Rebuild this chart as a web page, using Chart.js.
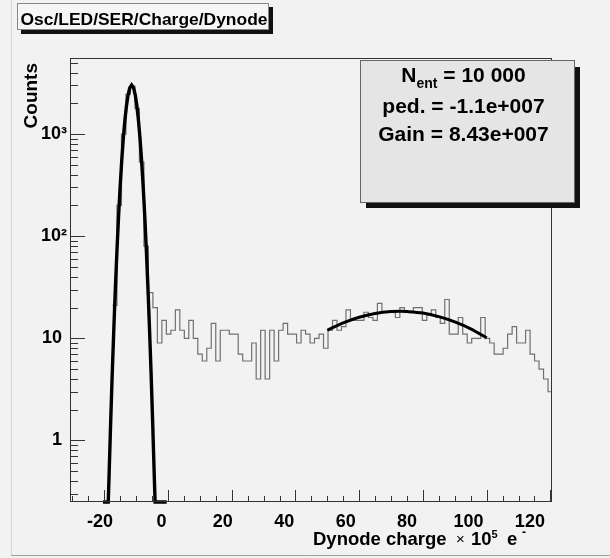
<!DOCTYPE html>
<html>
<head>
<meta charset="utf-8">
<script src="https://cdn.jsdelivr.net/npm/chart.js@4.4.1/dist/chart.umd.min.js"></script>
<style>
html,body{margin:0;padding:0;background:#f2f2f2;}
canvas{display:block;}
</style>
</head>
<body>
<canvas id="c" width="610" height="558"></canvas>
<script>
// ---- data ----
const histStart = -30.1;      // left edge of first bin (axis units)
const binWidth = 1.409;       // bin width (axis units)
const histCounts = [
  0, 0, 0, 0, 0, 0, 0, 0, 0,
  21, 200, 1000, 2450, 2950, 1780, 530, 80,
  28, 20, 9, 15, 11, 12, 19, 12, 10, 15,
  10, 7, 6, 8, 14, 6, 12, 12, 11, 11,
  7, 6, 6, 9, 4, 12, 4, 12, 6, 12,
  14, 11, 11, 9, 12, 11, 9, 10, 11, 8,
  12, 15, 12, 13, 19, 15, 15, 15, 18, 16,
  15, 22, 18, 18, 18, 16, 20, 18, 18, 20,
  20, 15, 17, 19, 16, 14, 24, 11, 11, 16,
  11, 9, 10, 10, 16, 10, 9, 7, 7, 8,
  11, 13, 9, 9, 12, 7, 6, 5, 4, 3
];
const pedFitX = [-20.4, -18.75, -18.5, -18, -17.5, -17, -16.5, -16, -15.5, -15, -14.5, -14, -13.5, -13, -12.5, -12, -11.4,
                 -10.8, -10.3, -9.8, -9.3, -8.8, -8.3, -7.8, -7.3, -6.8, -6.3, -5.8, -5.3, -4.8, -4.3, -4.05, -0.4];
const pedFitY = [0.25, 0.25, 0.44, 1.47, 4.5, 12.4, 31.7, 74, 159, 311, 560, 923, 1393, 1926, 2439, 2831, 3015,
                 2831, 2439, 1926, 1393, 923, 560, 311, 159, 74, 31.7, 12.4, 4.5, 1.47, 0.44, 0.25, 0.25];
const serFitX = [50, 55, 60, 65, 70, 72.9, 75, 80, 85, 90, 95, 100];
const serFitY = [12.0, 14.2, 16.1, 17.5, 18.3, 18.4, 18.3, 17.7, 16.3, 14.5, 12.4, 10.1];

const xTickValues = [-20, 0, 20, 40, 60, 80, 100, 120];
const yTickValues = [1, 10, 100, 1000];
const yTickLabels = ['1 ', '10 ', '10\u00b2', '10\u00b3'];

const titleText = 'Osc/LED/SER/Charge/Dynode';
const statsNent = '10 000';
const statsPed = 'ped. = -1.1e+007';
const statsGain = 'Gain = 8.43e+007';
const yTitle = 'Counts';

// ---- build library structures ----
const histPoints = histCounts.map((v, k) => ({x: histStart + k * binWidth, y: v}));
histPoints.push({x: histStart + histCounts.length * binWidth, y: histCounts[histCounts.length - 1]});
const pedPoints = pedFitX.map((x, i) => ({x, y: pedFitY[i]}));
const serPoints = serFitX.map((x, i) => ({x, y: serFitY[i]}));

const FONT = '"Liberation Sans", Arial, Helvetica, sans-serif';
Chart.defaults.font.family = FONT;

const decor = {
  id: 'decor',
  beforeDraw(chart) {
    const ctx = chart.ctx;
    ctx.save();
    ctx.fillStyle = '#f2f2f2';
    ctx.fillRect(0, 0, chart.width, chart.height);
    ctx.strokeStyle = '#d6d6d6';
    ctx.lineWidth = 1;
    ctx.beginPath();
    ctx.moveTo(11.5, 0); ctx.lineTo(11.5, 556);
    ctx.stroke();
    ctx.strokeStyle = '#a0a0a0';
    ctx.beginPath();
    ctx.moveTo(11, 555.5); ctx.lineTo(610, 555.5);
    ctx.stroke();
    ctx.restore();
  },
  afterDraw(chart) {
    const {ctx, chartArea: a, scales} = chart;
    const xs = scales.x, ys = scales.y;
    ctx.save();
    // frame
    ctx.strokeStyle = '#333';
    ctx.lineWidth = 1;
    ctx.strokeRect(a.left + 0.5, a.top + 0.5, a.right - a.left - 1, a.bottom - a.top - 1);
    // inward ticks
    ctx.beginPath();
    for (let v = Math.ceil(xs.min / 5) * 5; v <= xs.max + 1e-9; v += 5) {
      const px = Math.round(xs.getPixelForValue(v)) + 0.5;
      const len = (Math.abs(v % 20) < 1e-9) ? 12 : 6;
      ctx.moveTo(px, a.bottom); ctx.lineTo(px, a.bottom - len);
    }
    const e0 = Math.floor(Math.log10(ys.min)), e1 = Math.ceil(Math.log10(ys.max));
    for (let e = e0; e <= e1; e++) {
      for (let m = 1; m <= 9; m++) {
        const v = m * Math.pow(10, e);
        if (v < ys.min * 0.999 || v > ys.max) continue;
        const py = Math.round(ys.getPixelForValue(v)) + 0.5;
        const len = m === 1 ? 15 : 8;
        ctx.moveTo(a.left, py); ctx.lineTo(a.left + len, py);
      }
    }
    ctx.stroke();

    // title box
    ctx.fillStyle = '#111';
    ctx.fillRect(21, 7, 252, 27);
    ctx.fillStyle = '#f6f6f6';
    ctx.fillRect(17, 3, 252, 27);
    ctx.strokeStyle = '#888';
    ctx.strokeRect(17.5, 3.5, 251, 26);
    ctx.fillStyle = '#000';
    ctx.font = 'bold 17px ' + FONT;
    ctx.textAlign = 'left';
    ctx.textBaseline = 'alphabetic';
    const tw = ctx.measureText(titleText).width;
    ctx.save();
    ctx.translate(20.5, 25);
    ctx.scale(247 / tw, 1);
    ctx.fillText(titleText, 0, 0);
    ctx.restore();

    // stats box
    ctx.fillStyle = '#111';
    ctx.fillRect(366, 67, 214, 141);
    ctx.fillStyle = '#e5e5e5';
    ctx.fillRect(360, 60, 215, 143);
    ctx.strokeStyle = '#666';
    ctx.strokeRect(360.5, 60.5, 214, 142);
    ctx.fillStyle = '#000';
    const cx = 463.5;
    const big = 'bold 21px ' + FONT, small = 'bold 14px ' + FONT;
    ctx.font = big; const w1 = ctx.measureText('N').width;
    ctx.font = small; const w2 = ctx.measureText('ent').width;
    ctx.font = big; const w3 = ctx.measureText(' = ' + statsNent).width;
    const sx = cx - (w1 + w2 + w3) / 2;
    ctx.textAlign = 'left';
    ctx.font = big; ctx.fillText('N', sx, 82);
    ctx.font = small; ctx.fillText('ent', sx + w1, 88);
    ctx.font = big; ctx.fillText(' = ' + statsNent, sx + w1 + w2, 82);
    ctx.textAlign = 'center';
    ctx.fillText(statsPed, cx, 113);
    ctx.fillText(statsGain, cx, 141);

    // y axis title
    ctx.save();
    ctx.translate(32, 63);
    ctx.rotate(-Math.PI / 2);
    ctx.font = 'bold 19px ' + FONT;
    ctx.textAlign = 'right';
    ctx.textBaseline = 'middle';
    ctx.fillText(yTitle, 0, 0);
    ctx.restore();

    // x axis title
    ctx.textAlign = 'left';
    ctx.textBaseline = 'alphabetic';
    ctx.font = 'bold 18.5px ' + FONT;
    ctx.fillText('Dynode charge', 313, 545);
    ctx.font = '15px ' + FONT;
    ctx.fillText('\u00d7', 456, 544);
    ctx.font = 'bold 18.5px ' + FONT;
    ctx.fillText('10', 471, 545);
    ctx.font = 'bold 11px ' + FONT;
    ctx.fillText('5', 491.5, 538);
    ctx.font = 'bold 18.5px ' + FONT;
    ctx.fillText('e', 507, 545);
    ctx.font = 'bold 12px ' + FONT;
    ctx.fillText('-', 522, 536);
    ctx.restore();
  }
};

new Chart(document.getElementById('c'), {
  type: 'line',
  data: {
    datasets: [
      {label: 'pedestal fit', data: pedPoints, xAxisID: 'x', yAxisID: 'y', order: 0,
       borderColor: '#000', borderWidth: 3.4, pointRadius: 0, fill: false, tension: 0, clip: false},
      {label: 'SER fit', data: serPoints, xAxisID: 'x', yAxisID: 'y', order: 0,
       borderColor: '#000', borderWidth: 3, pointRadius: 0, fill: false, cubicInterpolationMode: 'monotone', clip: false},
      {label: 'histogram', data: histPoints, xAxisID: 'x', yAxisID: 'y', order: 1,
       borderColor: '#707070', borderWidth: 1.2, pointRadius: 0, fill: false, stepped: true}
    ]
  },
  options: {
    responsive: false,
    animation: false,
    devicePixelRatio: 1,
    events: [],
    layout: {padding: {top: 58, right: 58, bottom: 0, left: 0}},
    plugins: {legend: {display: false}, tooltip: {enabled: false}, title: {display: false}},
    scales: {
      x: {type: 'linear', display: false, min: -30.75, max: 120.5},
      x2: {
        type: 'linear', position: 'bottom', min: -29.76, max: 127.2,
        afterBuildTicks: s => { s.ticks = xTickValues.map(v => ({value: v})); },
        afterFit: s => { s.height = 56; },
        grid: {display: false, drawTicks: false},
        border: {display: false},
        ticks: {autoSkip: false, maxRotation: 0, padding: 9, color: '#000',
                font: {weight: 'bold', size: 18}, callback: v => String(v)}
      },
      y: {
        type: 'logarithmic', position: 'left', min: 0.25, max: 5550,
        afterBuildTicks: s => { s.ticks = yTickValues.map(v => ({value: v})); },
        afterFit: s => { s.width = 70; },
        grid: {display: false, drawTicks: false},
        border: {display: false},
        ticks: {autoSkip: false, padding: 3, color: '#000',
                font: {weight: 'bold', size: 18},
                callback: v => { const i = yTickValues.indexOf(v); return i >= 0 ? yTickLabels[i] : ''; }}
      }
    }
  },
  plugins: [decor]
});
</script>
</body>
</html>
